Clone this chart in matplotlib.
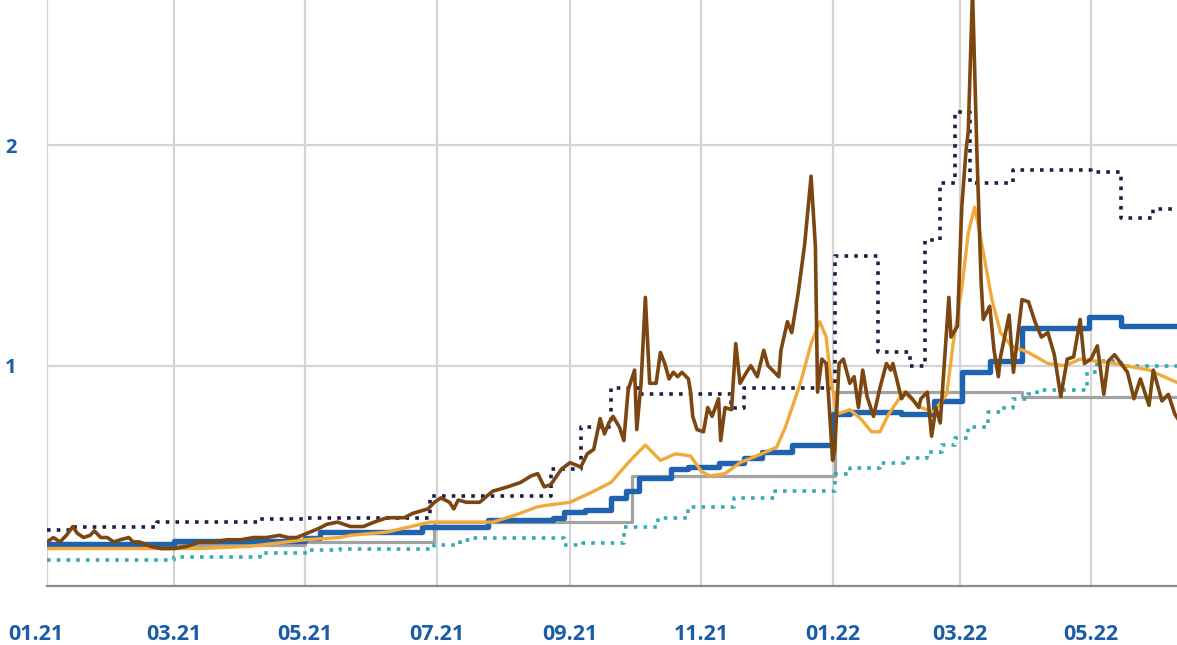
import matplotlib
matplotlib.use("Agg")
import matplotlib.pyplot as plt
import matplotlib.dates as mdates
import matplotlib.transforms as mtransforms
import numpy as np
import pandas as pd

START = pd.Timestamp("2021-01-01")

# ---- data (x = days since 2021-01-01) ----
navy_days = [0, 12, 51, 99, 121, 178, 234, 248, 262, 276, 318, 324, 366, 386, 401, 408, 415, 422, 429, 449, 485, 499, 514, 526]
navy_vals = [0.255, 0.27, 0.29, 0.305, 0.31, 0.41, 0.53, 0.72, 0.90, 0.87, 0.81, 0.90, 1.50, 1.06, 1.00, 1.57, 1.83, 2.15, 1.83, 1.89, 1.88, 1.67, 1.71, 1.71]

teal_days = [0, 59, 99, 121, 136, 180, 192, 198, 240, 249, 268, 284, 298, 319, 338, 366, 373, 387, 398, 409, 416, 422, 428, 437, 443, 449, 456, 460, 483, 488, 499, 526]
teal_vals = [0.12, 0.13, 0.15, 0.165, 0.17, 0.185, 0.21, 0.22, 0.185, 0.195, 0.27, 0.31, 0.36, 0.40, 0.43, 0.51, 0.535, 0.56, 0.58, 0.61, 0.64, 0.67, 0.72, 0.79, 0.81, 0.85, 0.87, 0.89, 0.97, 1.02, 1.00, 1.00]

blue_days = [0, 59, 120, 127, 174, 205, 235, 240, 250, 262, 269, 275, 290, 298, 312, 324, 332, 346, 365, 373, 397, 412, 425, 438, 453, 484, 499, 526]
blue_vals = [0.19, 0.205, 0.22, 0.245, 0.27, 0.30, 0.31, 0.335, 0.345, 0.40, 0.43, 0.49, 0.53, 0.54, 0.56, 0.58, 0.61, 0.64, 0.78, 0.79, 0.78, 0.84, 0.97, 1.02, 1.17, 1.22, 1.18, 1.18]

gray_days = [0, 120, 180, 272, 366, 453, 526]
gray_vals = [0.185, 0.20, 0.29, 0.50, 0.88, 0.86, 0.86]

orange_days = [0, 25, 48, 71, 94, 120, 136, 141, 158, 178, 197, 207, 217, 228, 235, 243, 254, 262, 271, 278, 285, 292, 299, 304, 308, 315, 322, 332, 339, 343, 350, 355, 359, 362, 364, 367, 373, 378, 383, 387, 391, 398, 406, 412, 418, 421, 425, 428, 431, 434, 439, 443, 448, 456, 465, 473, 480, 496, 512, 526]
orange_vals = [0.17, 0.17, 0.17, 0.17, 0.18, 0.21, 0.22, 0.23, 0.245, 0.29, 0.29, 0.29, 0.32, 0.36, 0.37, 0.38, 0.43, 0.47, 0.57, 0.64, 0.57, 0.60, 0.59, 0.52, 0.50, 0.51, 0.56, 0.60, 0.63, 0.72, 0.92, 1.10, 1.20, 1.13, 0.95, 0.78, 0.80, 0.76, 0.70, 0.70, 0.78, 0.88, 0.81, 0.79, 0.87, 1.10, 1.35, 1.60, 1.72, 1.57, 1.30, 1.15, 1.09, 1.06, 1.01, 1.00, 1.03, 1.01, 0.98, 0.92]

brown_days = [0, 3, 6, 9, 12, 14, 17, 20, 22, 25, 28, 31, 34, 38, 40, 43, 48, 53, 59, 65, 71, 77, 84, 90, 96, 102, 108, 112, 116, 121, 126, 130, 135, 141, 147, 152, 158, 166, 170, 177, 180, 183, 187, 189, 191, 195, 201, 207, 214, 220, 225, 228, 231, 234, 239, 243, 248, 251, 254, 257, 259, 261, 263, 266, 268, 270, 273, 274, 276, 278, 280, 283, 285, 287, 289, 291, 293, 295, 298, 299, 300, 302, 305, 307, 309, 312, 313, 315, 318, 320, 322, 325, 327, 330, 333, 335, 340, 341, 344, 346, 349, 352, 355, 357, 358, 360, 362, 363, 365, 366, 368, 370, 373, 375, 377, 379, 381, 384, 387, 390, 392, 393, 397, 399, 402, 405, 406, 409, 411, 413, 415, 419, 420, 423, 425, 427, 428, 430, 432, 434, 435, 438, 440, 442, 443, 447, 449, 453, 456, 459, 462, 465, 468, 471, 474, 477, 480, 482, 485, 488, 491, 493, 496, 499, 502, 505, 508, 512, 514, 518, 521, 524, 526]
brown_vals = [0.20, 0.22, 0.20, 0.23, 0.27, 0.24, 0.22, 0.23, 0.25, 0.22, 0.22, 0.20, 0.21, 0.22, 0.20, 0.20, 0.18, 0.17, 0.17, 0.18, 0.20, 0.20, 0.21, 0.21, 0.22, 0.22, 0.23, 0.22, 0.22, 0.24, 0.26, 0.28, 0.29, 0.27, 0.27, 0.29, 0.31, 0.31, 0.33, 0.35, 0.38, 0.40, 0.38, 0.35, 0.39, 0.38, 0.38, 0.43, 0.45, 0.47, 0.50, 0.51, 0.45, 0.46, 0.53, 0.56, 0.54, 0.60, 0.62, 0.76, 0.69, 0.74, 0.77, 0.72, 0.66, 0.89, 0.98, 0.71, 0.92, 1.31, 0.92, 0.92, 1.06, 1.01, 0.94, 0.97, 0.95, 0.97, 0.94, 0.88, 0.77, 0.71, 0.70, 0.81, 0.77, 0.85, 0.66, 0.81, 0.80, 1.10, 0.92, 0.97, 1.00, 0.95, 1.07, 1.00, 0.95, 1.07, 1.20, 1.15, 1.33, 1.55, 1.86, 1.54, 0.88, 1.03, 1.01, 0.88, 0.57, 0.62, 1.01, 1.03, 0.92, 0.95, 0.81, 0.98, 0.86, 0.77, 0.90, 1.01, 0.98, 1.01, 0.85, 0.88, 0.85, 0.81, 0.85, 0.88, 0.68, 0.81, 0.74, 1.31, 1.13, 1.18, 1.72, 1.98, 2.06, 2.70, 1.98, 1.38, 1.21, 1.27, 1.07, 0.95, 1.04, 1.23, 0.97, 1.30, 1.29, 1.20, 1.13, 1.15, 1.05, 0.86, 1.03, 1.04, 1.21, 1.01, 1.03, 1.09, 0.87, 1.02, 1.05, 1.01, 0.97, 0.85, 0.94, 0.82, 0.98, 0.84, 0.87, 0.78, 0.75]

x_ticks = ["2021-01-01", "2021-03-01", "2021-05-01", "2021-07-01", "2021-09-01",
           "2021-11-01", "2022-01-01", "2022-03-01", "2022-05-01"]
y_ticks = [1, 2]


def to_dates(days):
    return START + pd.to_timedelta(days, unit="D")


LABEL_COLOR = "#1b5ca8"

fig = plt.figure(figsize=(11.77, 6.45), dpi=100)
ax = fig.add_axes([47 / 1177, 59 / 645, 1 - 47 / 1177, 1 - 59 / 645])

dots = (0, (1, 1.7))
ax.plot(to_dates(gray_days), gray_vals, drawstyle="steps-post", color="#a3a3a3", lw=2.3, zorder=3)
ax.plot(to_dates(blue_days), blue_vals, drawstyle="steps-post", color="#1f63b0", lw=3.9, zorder=4)
ax.plot(to_dates(teal_days), teal_vals, drawstyle="steps-post", color="#35aab2", lw=2.6,
        linestyle=dots, zorder=3)
ax.plot(to_dates(navy_days), navy_vals, drawstyle="steps-post", color="#1d1d45", lw=2.6,
        linestyle=dots, zorder=3)
ax.plot(to_dates(orange_days), orange_vals, color="#f2a93b", lw=2.4, zorder=5)
ax.plot(to_dates(brown_days), brown_vals, color="#7b4610", lw=2.6, zorder=6)

ax.set_xlim(START, START + pd.Timedelta(days=525))
ax.set_ylim(0, 2.66)

ax.set_xticks(pd.to_datetime(x_ticks))
ax.xaxis.set_major_formatter(mdates.DateFormatter("%m.%y"))
ax.set_yticks(y_ticks)
ax.set_yticklabels([str(v) for v in y_ticks])

ax.grid(True, color="#d4d4d4", lw=1.6)
ax.set_axisbelow(True)
for s in ["top", "right", "left"]:
    ax.spines[s].set_visible(False)
ax.spines["bottom"].set_color("#8a8a8a")
ax.spines["bottom"].set_linewidth(1.6)

ax.tick_params(axis="both", length=0, labelcolor=LABEL_COLOR)
ax.tick_params(axis="x", pad=27, labelsize=15.5)
ax.tick_params(axis="y", pad=22, labelsize=14.5)
for lab in ax.get_xticklabels() + ax.get_yticklabels():
    lab.set_fontfamily("Open Sans")
    lab.set_fontweight("bold")

# first x label sits a little left of its gridline in the reference
fig.canvas.draw()
first = ax.get_xticklabels()[0]
first.set_transform(first.get_transform() + mtransforms.ScaledTranslation(-11 / 100, 0, fig.dpi_scale_trans))

fig.savefig("out.png", dpi=100)
